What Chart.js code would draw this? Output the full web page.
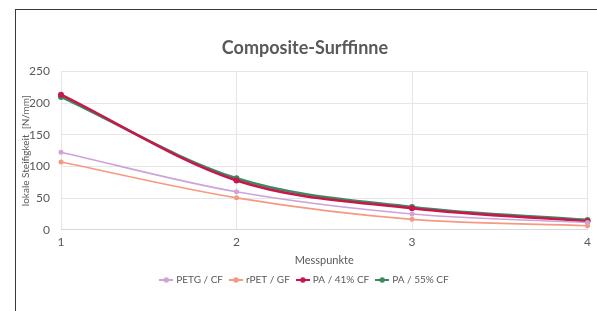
<!DOCTYPE html>
<html>
<head>
<meta charset="utf-8">
<script src="https://cdn.jsdelivr.net/npm/chart.js@4"></script>
<style>
  html, body { margin: 0; padding: 0; background: #fff; }
  #wrap { position: relative; width: 597px; height: 311px; overflow: hidden; }
  #frame { position: absolute; left: 15px; top: 9px; width: 590px; height: 320px; border: 1px solid #3a3a3a; box-sizing: border-box; }
  canvas { position: absolute; left: 0; top: 0; }
</style>
</head>
<body>
<div id="wrap">
  <div id="frame"></div>
  <canvas id="chart" width="597" height="311"></canvas>
</div>
<script>
// Messpunkte
const categories = ['1', '2', '3', '4'];

const petgCF = [122.5, 60, 25, 11.5];
const rpetGF = [107, 50.5, 16.5, 6.5];
const pa41CF = [213.5, 78, 34, 13.5];
const pa55CF = [210, 81.5, 36, 15.5];

const seriesNames = ['PETG / CF', 'rPET / GF', 'PA / 41% CF', 'PA / 55% CF'];
const seriesColors = ['#cda3d8', '#f59a80', '#c8174a', '#3d8a62'];
const yTicks = [0, 50, 100, 150, 200, 250];

const font = "Lato, 'Open Sans', sans-serif";
const textColor = '#595959';

// small legend symbol: line with dot, like Excel
function legendSymbol(color) {
    const c = document.createElement('canvas');
    c.width = 14; c.height = 8;
    const g = c.getContext('2d');
    g.strokeStyle = color;
    g.lineWidth = 2;
    g.beginPath(); g.moveTo(0, 4); g.lineTo(14, 4); g.stroke();
    g.fillStyle = color;
    g.beginPath(); g.arc(7, 4, 2.7, 0, Math.PI * 2); g.fill();
    return c;
}

const allSeries = [petgCF, rpetGF, pa41CF, pa55CF];
const datasets = allSeries.map(function(vals, i) {
    const bold = i >= 2;
    return {
        label: seriesNames[i],
        data: vals,
        borderColor: seriesColors[i],
        backgroundColor: seriesColors[i],
        borderWidth: bold ? 2.5 : 1.6,
        pointRadius: bold ? 3 : 2.5,
        pointBorderWidth: 0,
        pointStyle: 'circle',
        cubicInterpolationMode: 'monotone'
    };
});

const ctx = document.getElementById('chart').getContext('2d');
new Chart(ctx, {
    type: 'line',
    data: { labels: categories, datasets: datasets },
    options: {
        responsive: false,
        animation: false,
        layout: { padding: { left: 20, right: 7, top: 37, bottom: 16 } },
        plugins: {
            title: {
                display: true,
                text: 'Composite-Surffinne',
                color: textColor,
                font: { family: font, size: 18, weight: 'bold' },
                padding: { top: 0, bottom: 13 }
            },
            legend: {
                position: 'bottom',
                labels: {
                    color: textColor,
                    font: { family: font, size: 10 },
                    usePointStyle: true,
                    boxWidth: 14,
                    padding: 8,
                    generateLabels: function(chart) {
                        return chart.data.datasets.map(function(ds, i) {
                            return {
                                text: ds.label,
                                pointStyle: legendSymbol(seriesColors[i]),
                                fontColor: textColor,
                                strokeStyle: seriesColors[i],
                                fillStyle: seriesColors[i],
                                lineWidth: 0,
                                datasetIndex: i
                            };
                        });
                    }
                }
            },
            tooltip: { enabled: false }
        },
        scales: {
            x: {
                type: 'category',
                offset: false,
                grid: { color: '#e6e6e6', drawTicks: false },
                border: { color: '#d9d9d9' },
                ticks: { color: textColor, font: { family: font, size: 12, lineHeight: 1 }, padding: 6 },
                title: {
                    display: true,
                    text: 'Messpunkte',
                    color: textColor,
                    font: { family: font, size: 11 },
                    padding: { top: 0, bottom: 0 }
                }
            },
            y: {
                min: 0,
                max: 250,
                afterBuildTicks: function(axis) {
                    axis.ticks = yTicks.map(function(v) { return { value: v }; });
                },
                afterFit: function(axis) { axis.width = 41; },
                grid: { color: '#e6e6e6', drawTicks: false },
                border: { display: false },
                ticks: { color: textColor, font: { family: font, size: 12 }, padding: 11 },
                title: {
                    display: true,
                    text: 'lokale Steifigkeit  [N/mm]',
                    color: textColor,
                    font: { family: font, size: 10 },
                    padding: { top: 0, bottom: 2 }
                }
            }
        }
    }
});
</script>
</body>
</html>
